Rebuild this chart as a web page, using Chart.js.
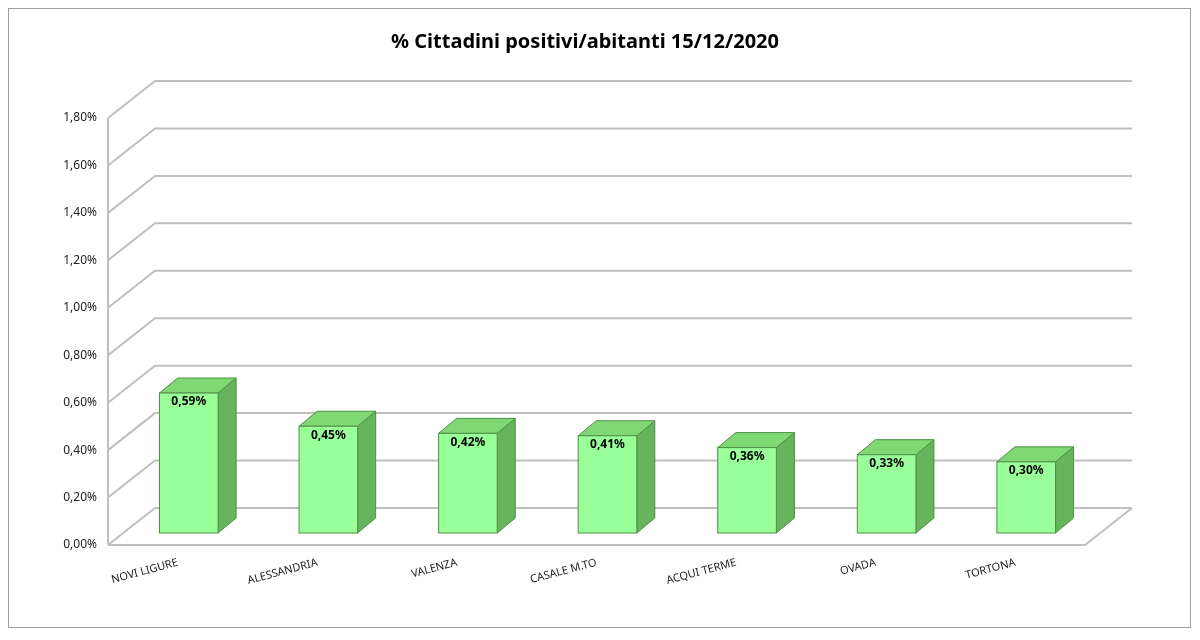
<!DOCTYPE html>
<html>
<head>
<meta charset="utf-8">
<script src="https://cdn.jsdelivr.net/npm/chart.js@4"></script>
<style>
  body { margin: 0; background: #fff; }
  #wrap { width: 1200px; height: 640px; }
</style>
</head>
<body>
<div id="wrap"><canvas id="chart" width="1200" height="640"></canvas></div>
<script>
// data
const categories = ["NOVI LIGURE", "ALESSANDRIA", "VALENZA", "CASALE M.TO", "ACQUI TERME", "OVADA", "TORTONA"];
const values = [0.59, 0.45, 0.42, 0.41, 0.36, 0.33, 0.30];
const titleText = "% Cittadini positivi/abitanti 15/12/2020";

const fmt = v => v.toFixed(2).replace(".", ",") + "%";

// depth offsets
const WALL = { dx: 47, dy: -37 };
const BAR = { sx: 11, sy: -12, dx: 18, dy: -15 };

const threeD = {
  id: "threeD",
  beforeDatasetsDraw(chart) {
    const { ctx, chartArea: a, scales: { y } } = chart;
    ctx.save();
    ctx.strokeStyle = "#bfbfbf";
    ctx.lineWidth = 2;
    y.ticks.forEach(t => {
      const py = y.getPixelForValue(t.value);
      ctx.beginPath();
      ctx.moveTo(a.left, py);
      ctx.lineTo(a.left + WALL.dx, py + WALL.dy);
      ctx.lineTo(a.right + WALL.dx, py + WALL.dy);
      ctx.stroke();
    });
    // floor edge
    ctx.beginPath();
    ctx.moveTo(a.left, a.bottom);
    ctx.lineTo(a.right, a.bottom);
    ctx.lineTo(a.right + WALL.dx, a.bottom + WALL.dy);
    ctx.stroke();
    // left axis
    ctx.beginPath();
    ctx.moveTo(a.left, a.top);
    ctx.lineTo(a.left, a.bottom);
    ctx.stroke();
    ctx.restore();
  },
  afterDatasetsDraw(chart) {
    const { ctx } = chart;
    const meta = chart.getDatasetMeta(0);
    ctx.save();
    meta.data.forEach((bar, i) => {
      const l = bar.x - bar.width / 2 + BAR.sx;
      const r = bar.x + bar.width / 2 + BAR.sx;
      const t = bar.y + BAR.sy;
      const b = bar.base + BAR.sy;
      ctx.strokeStyle = "#4f8f47";
      ctx.lineWidth = 1;
      // side
      ctx.fillStyle = "#66b45c";
      ctx.beginPath();
      ctx.moveTo(r, t); ctx.lineTo(r + BAR.dx, t + BAR.dy);
      ctx.lineTo(r + BAR.dx, b + BAR.dy); ctx.lineTo(r, b);
      ctx.closePath(); ctx.fill(); ctx.stroke();
      // top
      ctx.fillStyle = "#7fd873";
      ctx.beginPath();
      ctx.moveTo(l, t); ctx.lineTo(l + BAR.dx, t + BAR.dy);
      ctx.lineTo(r + BAR.dx, t + BAR.dy); ctx.lineTo(r, t);
      ctx.closePath(); ctx.fill(); ctx.stroke();
      // front
      ctx.fillStyle = "#99ff99";
      ctx.fillRect(l, t, r - l, b - t);
      ctx.strokeRect(l, t, r - l, b - t);
      // label
      ctx.fillStyle = "#000";
      ctx.font = "bold 12px 'Noto Sans'";
      ctx.textAlign = "center";
      ctx.textBaseline = "top";
      ctx.fillText(fmt(values[i]), (l + r) / 2, t + 3);
    });
    ctx.restore();
  },
  afterDraw(chart) {
    const { ctx } = chart;
    ctx.save();
    ctx.strokeStyle = "#a0a0a0";
    ctx.lineWidth = 1;
    ctx.strokeRect(8.5, 8.5, 1182, 619);
    ctx.fillStyle = "#000";
    ctx.font = "bold 20px 'Noto Sans'";
    ctx.textAlign = "center";
    ctx.textBaseline = "middle";
    ctx.fillText(titleText, 585, 42);
    ctx.restore();
  }
};

new Chart(document.getElementById("chart"), {
  type: "bar",
  data: {
    labels: categories,
    datasets: [{
      data: values,
      backgroundColor: "rgba(0,0,0,0)",
      borderWidth: 0,
      barPercentage: 0.42,
      categoryPercentage: 1,
    }],
  },
  options: {
    responsive: false,
    animation: false,
    layout: { padding: { top: 118, right: 115, left: 0, bottom: 0 } },
    plugins: { legend: { display: false }, tooltip: { enabled: false } },
    scales: {
      y: {
        min: 0,
        max: 1.8,
        ticks: { stepSize: 0.2, callback: v => fmt(v), color: "#222", font: { family: "Noto Sans", size: 12 } },
        grid: { display: false },
        border: { display: false },
        afterFit: s => { s.width = 108; },
      },
      x: {
        ticks: { minRotation: 15, maxRotation: 15, color: "#222", font: { family: "Noto Sans", size: 11 } },
        grid: { display: false },
        border: { display: false },
        afterFit: s => { s.height = 95; },
      },
    },
  },
  plugins: [threeD],
});
</script>
</body>
</html>
